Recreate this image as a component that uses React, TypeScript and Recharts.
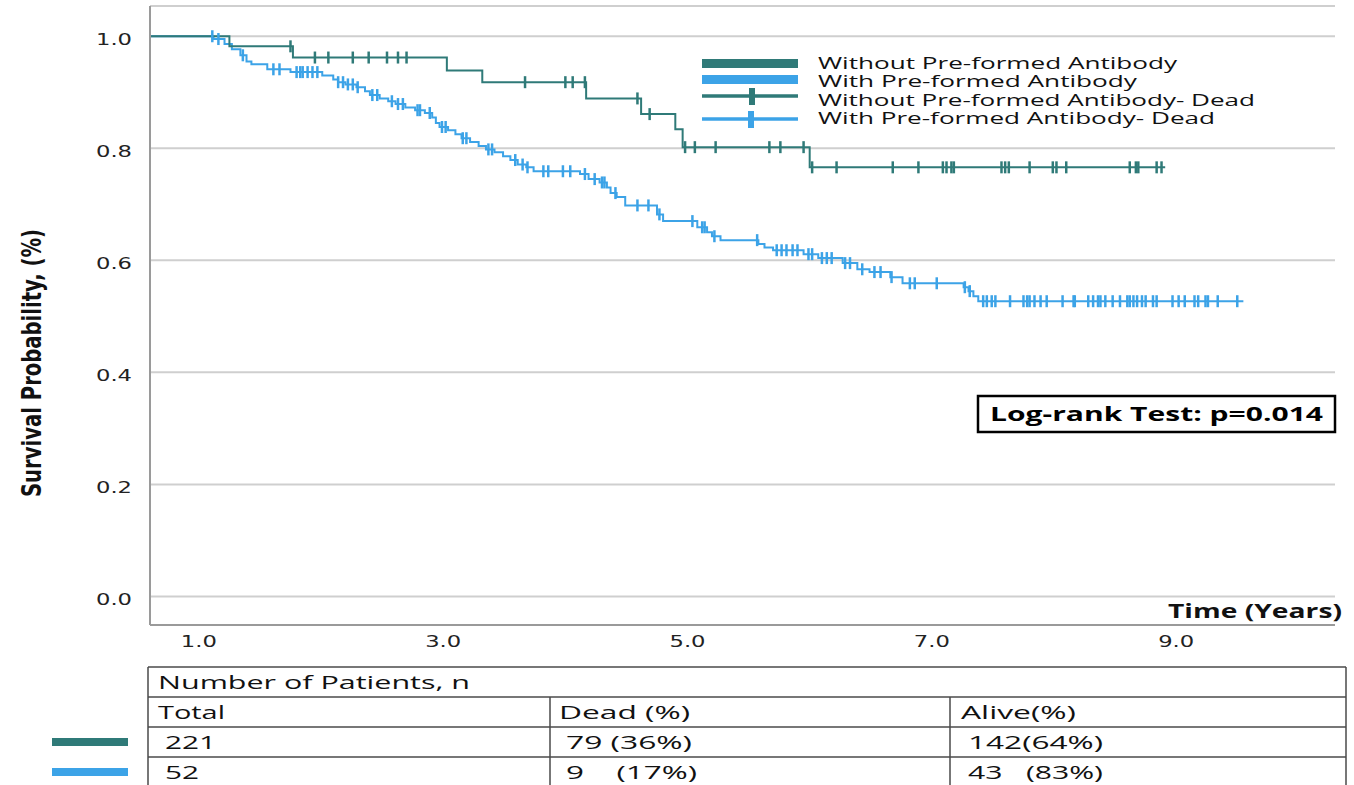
import React from 'react';
import { ComposedChart, Line, Scatter, XAxis, YAxis, CartesianGrid } from 'recharts';

const TEAL = '#2f7a78';
const BLUE = '#3ca3e7';
const SANS = "'Open Sans', 'Noto Sans', sans-serif";
const NARROW = "'Liberation Sans Narrow', 'DejaVu Sans Condensed', 'Roboto', sans-serif";

// Kaplan-Meier estimate, without pre-formed antibody: step times (years) and survival after each step
const withoutTimes = [0.6, 1.25, 1.77, 3.03, 3.32, 4.17, 4.62, 4.9, 4.96, 6.0, 8.91];
const withoutSurv = [1.0, 0.982, 0.962, 0.939, 0.918, 0.889, 0.861, 0.834, 0.802, 0.766, 0.766];
const withoutCensored = [
  1.75, 1.95, 2.06, 2.26, 2.39, 2.54, 2.63, 2.7, 3.67, 4.0, 4.06, 4.16, 4.59, 4.69,
  4.98, 5.06, 5.23, 5.67, 5.76, 5.95, 6.02, 6.22, 6.68, 6.89, 7.09, 7.12, 7.16, 7.18,
  7.57, 7.6, 7.63, 7.8, 7.99, 8.02, 8.1, 8.62, 8.67, 8.69, 8.84, 8.88,
];

// Kaplan-Meier estimate, with pre-formed antibody
const withTimes = [
  0.6, 1.12, 1.21, 1.27, 1.34, 1.39, 1.43, 1.56, 1.75, 2.01, 2.1, 2.14, 2.2, 2.29, 2.36,
  2.4, 2.48, 2.55, 2.61, 2.69, 2.77, 2.85, 2.91, 2.94, 2.97, 3.04, 3.1, 3.15, 3.22, 3.29,
  3.35, 3.42, 3.49, 3.55, 3.61, 3.68, 3.74, 4.12, 4.19, 4.28, 4.34, 4.37, 4.42, 4.49, 4.75,
  4.8, 5.08, 5.16, 5.2, 5.27, 5.58, 5.63, 5.7, 5.95, 6.07, 6.27, 6.39, 6.49, 6.66, 6.76,
  7.26, 7.3, 7.34, 7.38, 9.55,
];
const withSurv = [
  1.0, 0.995, 0.986, 0.977, 0.966, 0.955, 0.95, 0.941, 0.936, 0.93, 0.923, 0.918, 0.914,
  0.909, 0.902, 0.895, 0.889, 0.884, 0.879, 0.873, 0.868, 0.863, 0.855, 0.845, 0.838,
  0.832, 0.825, 0.818, 0.811, 0.804, 0.798, 0.793, 0.786, 0.779, 0.771, 0.766, 0.759,
  0.754, 0.745, 0.739, 0.73, 0.72, 0.713, 0.698, 0.682, 0.67, 0.659, 0.65, 0.643, 0.636,
  0.629, 0.623, 0.618, 0.611, 0.604, 0.595, 0.584, 0.579, 0.57, 0.559, 0.552, 0.545,
  0.536, 0.527, 0.527,
];
const withCensored = [
  1.11, 1.16, 1.36, 1.61, 1.66, 1.8, 1.83, 1.85, 1.89, 1.93, 1.97, 2.14, 2.18, 2.22, 2.26,
  2.3, 2.42, 2.46, 2.58, 2.63, 2.67, 2.79, 2.81, 2.89, 2.99, 3.02, 3.16, 3.19, 3.37, 3.4,
  3.59, 3.65, 3.69, 3.82, 3.86, 3.98, 4.04, 4.16, 4.24, 4.3, 4.32, 4.41, 4.59, 4.68, 4.77,
  5.04, 5.12, 5.14, 5.22, 5.57, 5.73, 5.77, 5.81, 5.86, 5.9, 5.99, 6.02, 6.1, 6.14, 6.18,
  6.29, 6.33, 6.43, 6.53, 6.58, 6.67, 6.82, 6.86, 7.04, 7.27, 7.31, 7.42, 7.45, 7.49,
  7.52, 7.64, 7.75, 7.78, 7.8, 7.84, 7.89, 7.94, 8.07, 8.16, 8.17, 8.28, 8.32, 8.36, 8.38,
  8.42, 8.48, 8.54, 8.6, 8.62, 8.65, 8.68, 8.72, 8.75, 8.81, 8.84, 8.97, 9.02, 9.07, 9.15,
  9.18, 9.24, 9.26, 9.34, 9.5,
];

const xTicks = [1, 3, 5, 7, 9];
const yTicks = [0, 0.2, 0.4, 0.6, 0.8, 1.0];

const legendLabels = [
  'Without Pre-formed Antibody',
  'With Pre-formed Antibody',
  'Without Pre-formed Antibody- Dead',
  'With Pre-formed Antibody- Dead',
];
const tableTitle = 'Number of Patients, n';
const tableHeader = ['Total', 'Dead (%)', 'Alive(%)'];
const withoutRow = ['221', '79 (36%)', '142(64%)'];
const withRow = ['52', '9    (17%)', '43   (83%)'];
const logRankText = 'Log-rank Test: p=0.014';

type Pt = { t: number; s: number };

const toSteps = (times: number[], surv: number[]): Pt[] => times.map((t, i) => ({ t, s: surv[i] }));

// censored cases sit on the curve: value of the step function at that time
const survivalAt = (steps: Pt[], t: number) => {
  let s = steps[0].s;
  for (const p of steps) {
    if (p.t <= t) s = p.s;
    else break;
  }
  return s;
};

const withoutSteps = toSteps(withoutTimes, withoutSurv);
const withSteps = toSteps(withTimes, withSurv);
const withoutMarks = withoutCensored.map(t => ({ t, s: survivalAt(withoutSteps, t) }));
const withMarks = withCensored.map(t => ({ t, s: survivalAt(withSteps, t) }));

const censorTick = (color: string, half: number, width: number) => (props: any) => (
  <line x1={props.cx} x2={props.cx} y1={props.cy - half} y2={props.cy + half} stroke={color} strokeWidth={width} />
);

const YTick = ({ x, y, payload }: any) => (
  <text x={x} y={y + 9} textAnchor="end" fontFamily="DejaVu Sans" fontSize={16} fill="#222"
    textLength={36} lengthAdjust="spacingAndGlyphs">
    {Number(payload.value).toFixed(1)}
  </text>
);

const XTick = ({ x, y, payload }: any) => (
  <text x={x} y={y + 6} textAnchor="middle" fontFamily="DejaVu Sans" fontSize={16} fill="#222"
    textLength={36} lengthAdjust="spacingAndGlyphs">
    {Number(payload.value).toFixed(1)}
  </text>
);

const Cell = ({ x, y, w, text }: { x: number; y: number; w: number; text: string }) => (
  <text x={x} y={y} fontFamily={SANS} fontSize={19} fill="#111" textLength={w}
    lengthAdjust="spacingAndGlyphs" style={{ whiteSpace: 'pre' }}>
    {text}
  </text>
);

const App: React.FC = () => {
  return (
    <div style={{ position: 'relative', width: 1354, height: 785, background: '#fff' }}>
      <style>{`body { margin: 0; }`}</style>

      <ComposedChart width={1354} height={785} margin={{ top: 6, right: 19, bottom: 130, left: 90 }}>
        <CartesianGrid horizontal vertical={false} stroke="#cfcfcf" strokeWidth={2} />
        <XAxis
          type="number"
          dataKey="t"
          domain={[0.6, 10.3]}
          ticks={xTicks}
          allowDataOverflow
          height={30}
          tickLine={false}
          tickSize={0}
          tickMargin={16}
          axisLine={{ stroke: '#9a9a9a', strokeWidth: 2 }}
          tick={<XTick />}
        />
        <YAxis
          type="number"
          domain={[-0.051, 1.054]}
          ticks={yTicks}
          allowDataOverflow
          width={60}
          tickLine={false}
          tickSize={0}
          tickMargin={18}
          axisLine={{ stroke: '#9a9a9a', strokeWidth: 2 }}
          tick={<YTick />}
        />
        <Line data={withSteps} dataKey="s" type="stepAfter" stroke={BLUE} strokeWidth={2}
          dot={false} activeDot={false} isAnimationActive={false} />
        <Line data={withoutSteps} dataKey="s" type="stepAfter" stroke={TEAL} strokeWidth={2}
          dot={false} activeDot={false} isAnimationActive={false} />
        <Scatter data={withMarks} dataKey="s" shape={censorTick(BLUE, 6, 2.5)} isAnimationActive={false} />
        <Scatter data={withoutMarks} dataKey="s" shape={censorTick(TEAL, 6, 2.5)} isAnimationActive={false} />
      </ComposedChart>

      <svg width={1354} height={785} style={{ position: 'absolute', left: 0, top: 0, pointerEvents: 'none' }}>
        {/* axis titles */}
        <text transform="translate(41, 363) rotate(-90)" textAnchor="middle" fontFamily={NARROW}
          fontWeight="bold" fontSize={27} fill="#111" textLength={268} lengthAdjust="spacingAndGlyphs">
          Survival Probability, (%)
        </text>
        <text x={1168} y={618} fontFamily={SANS} fontWeight="bold" fontSize={19} fill="#111"
          textLength={174} lengthAdjust="spacingAndGlyphs">
          Time (Years)
        </text>

        {/* legend */}
        <rect x={702} y={59} width={96} height={9} fill={TEAL} />
        <rect x={702} y={75} width={96} height={9} fill={BLUE} />
        <line x1={702} x2={798} y1={96} y2={96} stroke={TEAL} strokeWidth={3.5} />
        <rect x={749} y={88} width={6} height={17} fill={TEAL} />
        <line x1={702} x2={798} y1={119} y2={119} stroke={BLUE} strokeWidth={3.5} />
        <rect x={748} y={111} width={6} height={17} fill={BLUE} />
        {legendLabels.map((label, i) => (
          <text key={label} x={818} y={[69, 87, 106, 124][i]} fontFamily={SANS} fontSize={16} fill="#111"
            textLength={[359, 319, 437, 397][i]} lengthAdjust="spacingAndGlyphs">
            {label}
          </text>
        ))}

        {/* log-rank annotation */}
        <rect x={978} y={396} width={357} height={36} fill="#fff" stroke="#000" strokeWidth={2.5} />
        <text x={990} y={421} fontFamily={SANS} fontWeight="bold" fontSize={19} fill="#000"
          textLength={333} lengthAdjust="spacingAndGlyphs">
          {logRankText}
        </text>

        {/* patient table */}
        <g stroke="#4a4a4a" strokeWidth={1.5} fill="none">
          <line x1={148} x2={1346} y1={667} y2={667} />
          <line x1={148} x2={1346} y1={697} y2={697} />
          <line x1={148} x2={1346} y1={727} y2={727} />
          <line x1={148} x2={1346} y1={757} y2={757} />
          <line x1={148} x2={148} y1={667} y2={790} />
          <line x1={1346} x2={1346} y1={667} y2={790} />
          <line x1={550} x2={550} y1={697} y2={790} />
          <line x1={950} x2={950} y1={697} y2={790} />
        </g>
        <rect x={52} y={738} width={76} height={8} fill={TEAL} />
        <rect x={52} y={768} width={76} height={8} fill={BLUE} />

        <Cell x={158} y={689} w={312} text={tableTitle} />
        <Cell x={158} y={719} w={67} text={tableHeader[0]} />
        <Cell x={559} y={719} w={131} text={tableHeader[1]} />
        <Cell x={961} y={719} w={115} text={tableHeader[2]} />
        <Cell x={165} y={749} w={51} text={withoutRow[0]} />
        <Cell x={566} y={749} w={126} text={withoutRow[1]} />
        <Cell x={968} y={749} w={135} text={withoutRow[2]} />
        <Cell x={165} y={779} w={34} text={withRow[0]} />
        <Cell x={566} y={779} w={131} text={withRow[1]} />
        <Cell x={968} y={779} w={135} text={withRow[2]} />
      </svg>
    </div>
  );
};

export default App;
